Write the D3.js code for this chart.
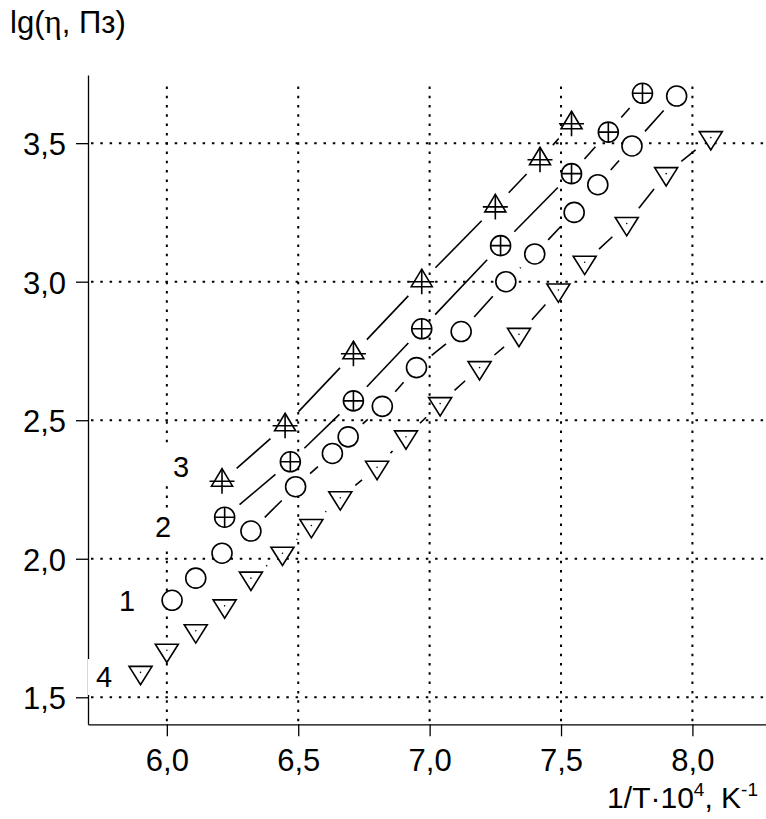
<!DOCTYPE html>
<html>
<head>
<meta charset="utf-8">
<script src="https://cdn.jsdelivr.net/npm/d3@7"></script>
<style>
  body { margin: 0; background: #fff; }
  svg { display: block; font-family: "Liberation Sans", Arial, sans-serif; }
</style>
</head>
<body>
<svg id="chart"></svg>
<script>
// curve 1 - open circles
const x1 = [6.02, 6.11, 6.21, 6.32, 6.49, 6.63, 6.69, 6.82, 6.95, 7.12, 7.29, 7.40, 7.55, 7.64, 7.77, 7.94];
const y1 = [1.85, 1.93, 2.02, 2.10, 2.26, 2.38, 2.44, 2.55, 2.69, 2.82, 3.00, 3.10, 3.25, 3.35, 3.49, 3.67];
// curve 2 - crossed circles
const x2 = [6.22, 6.47, 6.71, 6.97, 7.27, 7.54, 7.68, 7.81];
const y2 = [2.15, 2.35, 2.57, 2.83, 3.13, 3.39, 3.54, 3.68];
// curve 3 - crossed triangles
const x3 = [6.21, 6.45, 6.71, 6.97, 7.25, 7.42, 7.54];
const y3 = [2.28, 2.48, 2.74, 3.00, 3.27, 3.44, 3.57];
// curve 4 - down triangles with a dot
const x4 = [5.90, 6.00, 6.11, 6.22, 6.32, 6.44, 6.55, 6.66, 6.80, 6.91, 7.04, 7.19, 7.34, 7.49, 7.59, 7.75, 7.90, 8.07];
const y4 = [1.59, 1.67, 1.74, 1.83, 1.93, 2.02, 2.12, 2.22, 2.33, 2.44, 2.56, 2.69, 2.81, 2.97, 3.07, 3.21, 3.39, 3.52];

const xTicks = [6.0, 6.5, 7.0, 7.5, 8.0];
const yTicks = [1.5, 2.0, 2.5, 3.0, 3.5];
const curveNames = ["1", "2", "3", "4"];

const W = 766, H = 819;
const svg = d3.select("#chart").attr("width", W).attr("height", H);

const x = d3.scaleLinear().domain([5.7, 8.28]).range([88, 766]);
const y = d3.scaleLinear().domain([1.4025, 3.746]).range([724.3, 75]);

const comma = function (d) { return d3.format(".1f")(d).replace(".", ","); };

// dotted grid
const grid = svg.append("g")
  .attr("stroke", "#000")
  .attr("stroke-width", 2)
  .attr("stroke-dasharray", "2.5,6.8");
grid.selectAll(".hg").data(yTicks).enter().append("line")
  .attr("x1", x.range()[0] + 3).attr("x2", W)
  .attr("y1", function (d) { return y(d); })
  .attr("y2", function (d) { return y(d); });
grid.selectAll(".vg").data(xTicks).enter().append("line")
  .attr("x1", function (d) { return x(d); })
  .attr("x2", function (d) { return x(d); })
  .attr("y1", y.range()[0] - 3).attr("y2", 80);

// axes
const xAxis = d3.axisBottom(x).tickValues(xTicks).tickFormat(comma).tickSize(12).tickSizeOuter(0);
const yAxis = d3.axisLeft(y).tickValues(yTicks).tickFormat(comma).tickSize(12).tickSizeOuter(0);

const gx = svg.append("g").attr("transform", "translate(0," + y.range()[0] + ")").call(xAxis);
const gy = svg.append("g").attr("transform", "translate(" + x.range()[0] + ",0)").call(yAxis);
[gx, gy].forEach(function (g) {
  g.select(".domain").attr("stroke-width", 1.3);
  g.selectAll(".tick line").attr("stroke-width", 1.3);
  g.selectAll(".tick text")
    .attr("font-family", "Liberation Sans, Arial, sans-serif")
    .attr("font-size", 31)
    .attr("fill", "#000");
});
gx.selectAll(".tick text").attr("y", 47).attr("dy", null);
gy.selectAll(".tick text").attr("x", -22).attr("dy", "0.37em");

// series
const series = [
  { xs: x1, ys: y1, kind: "circle" },
  { xs: x2, ys: y2, kind: "circlePlus" },
  { xs: x3, ys: y3, kind: "triPlus" },
  { xs: x4, ys: y4, kind: "triDown" },
];

// line pieces that stop short of each marker
function gapSegments(pts, gap) {
  const segs = [];
  for (let i = 1; i < pts.length; i++) {
    const a = pts[i - 1], b = pts[i];
    const d = Math.hypot(b[0] - a[0], b[1] - a[1]);
    if (d <= 2 * gap) continue;
    const ux = (b[0] - a[0]) / d, uy = (b[1] - a[1]) / d;
    segs.push([a[0] + ux * gap, a[1] + uy * gap, b[0] - ux * gap, b[1] - uy * gap]);
  }
  return segs;
}

series.forEach(function (s) {
  const pts = s.xs.map(function (v, i) { return [x(v), y(s.ys[i])]; });
  svg.append("g").selectAll("line")
    .data(gapSegments(pts, 19.5))
    .enter().append("line")
    .attr("x1", function (d) { return d[0]; })
    .attr("y1", function (d) { return d[1]; })
    .attr("x2", function (d) { return d[2]; })
    .attr("y2", function (d) { return d[3]; })
    .attr("stroke", "#000")
    .attr("stroke-width", 1.6);

  const m = svg.append("g").selectAll("g")
    .data(pts).enter().append("g")
    .attr("transform", function (d) { return "translate(" + d[0] + "," + d[1] + ")"; })
    .attr("fill", "#fff")
    .attr("stroke", "#000")
    .attr("stroke-width", 1.6);

  if (s.kind === "circle" || s.kind === "circlePlus") {
    m.append("circle").attr("r", 10);
    if (s.kind === "circlePlus") {
      m.append("path").attr("d", "M-10,0H10M0,-10V10");
    }
  } else if (s.kind === "triPlus") {
    m.append("path").attr("d", "M0,-12.5L10.5,5L-10.5,5Z");
    m.append("path").attr("d", "M-12.5,0H12.5M0,-12.5V12.5");
  } else {
    m.append("path").attr("d", "M-11.5,-6L11.5,-6L0,12.3Z");
    m.append("circle").attr("r", 0.8).attr("fill", "#000").attr("stroke", "none");
  }
});

// curve numbers
const labelPos = [[127, 611], [163, 537], [181, 477], [104, 687]];
const labels = svg.append("g");
labels.selectAll("rect").data(labelPos).enter().append("rect")
  .attr("x", function (d) { return d[0] - 16; })
  .attr("y", function (d) { return d[1] - 28; })
  .attr("width", 32).attr("height", 36)
  .attr("fill", "#fff");
labels.selectAll("text").data(curveNames).enter().append("text")
  .attr("x", function (d, i) { return labelPos[i][0]; })
  .attr("y", function (d, i) { return labelPos[i][1]; })
  .attr("text-anchor", "middle")
  .attr("font-size", 29)
  .text(function (d) { return d; });

// axis titles
const yTitle = svg.append("text").attr("x", 10).attr("y", 33).attr("font-size", 31);
yTitle.append("tspan").text("lg(");
yTitle.append("tspan").attr("font-family", "Liberation Serif, DejaVu Serif, serif").attr("font-size", 33).text("η");
yTitle.append("tspan").text(", Пз)");

const xTitle = svg.append("text").attr("x", 758).attr("y", 808).attr("font-size", 30).attr("text-anchor", "end");
xTitle.append("tspan").text("1/T·10");
xTitle.append("tspan").attr("font-size", 19).attr("dy", -12).text("4");
xTitle.append("tspan").attr("dy", 12).text(", K");
xTitle.append("tspan").attr("font-size", 19).attr("dy", -12).text("-1");
</script>
</body>
</html>
